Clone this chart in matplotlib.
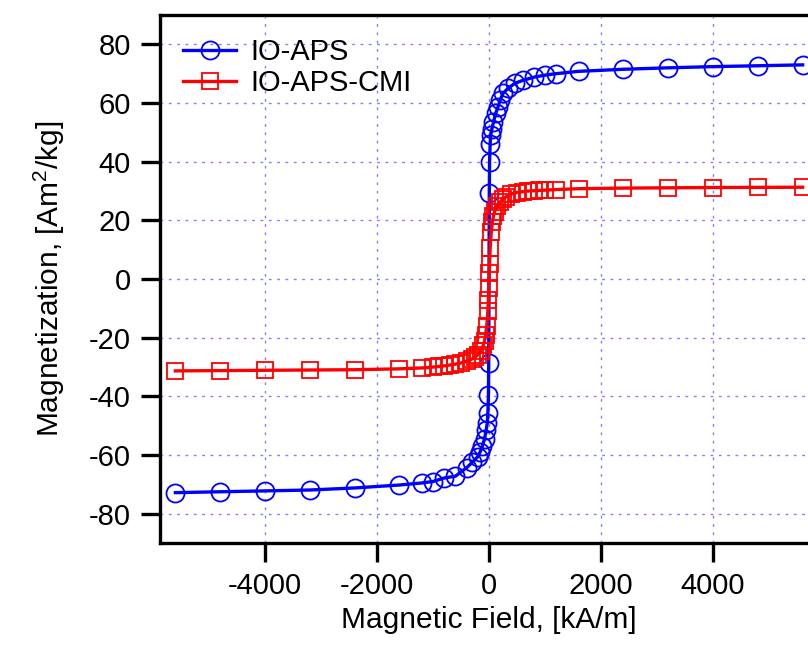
import matplotlib
matplotlib.use("Agg")
import matplotlib.pyplot as plt

plt.rcParams["font.family"] = ["Liberation Sans", "DejaVu Sans"]
plt.rcParams["mathtext.default"] = "regular"
plt.rcParams["axes.unicode_minus"] = False

# field values, kA/m
field_aps = [-5600, -4800, -4000, -3200, -2400, -1600, -1200, -1000, -800, -600,
             -400, -300, -200, -160, -120, -80, -50, -30, -20, -10, -5,
             5, 10, 20, 30, 50, 80, 120, 160, 200, 250, 340, 460, 600, 800,
             1000, 1200, 1600, 2400, 3200, 4000, 4800, 5600]
mag_aps = [-72.8, -72.5, -72.2, -71.9, -71.2, -70.2, -69.5, -69.0, -67.8, -67.2,
           -64.3, -62.5, -60.5, -59.0, -57.0, -54.5, -51.4, -49.0, -45.6, -39.5, -28.6,
           29.3, 39.8, 46.0, 49.0, 51.0, 53.5, 56.5, 58.6, 61.0, 63.3, 65.0, 66.7, 67.7, 68.8,
           69.5, 70.0, 70.8, 71.5, 72.0, 72.4, 72.7, 73.0]

field_cmi = [-5600, -4800, -4000, -3200, -2400, -1600, -1200, -1000, -900, -800,
             -700, -600, -500, -400, -300, -250, -200, -150, -100, -80, -60, -40,
             -20, -10, -5, 5, 10, 20, 40, 60, 80, 100, 150, 200, 250, 300, 400,
             500, 600, 700, 800, 900, 1000, 1200, 1600, 2400, 3200, 4000, 4800, 5600]
mag_cmi = [-31.3, -31.2, -31.1, -31.0, -30.9, -30.6, -30.3, -30.0, -29.8, -29.6,
           -29.3, -29.0, -28.6, -28.0, -27.2, -26.6, -25.8, -24.5, -22.5, -21.0, -19.0, -16.0,
           -11.0, -7.0, -3.0, 2.0, 5.0, 10.5, 16.0, 19.5, 21.5, 23.0, 25.0, 26.3, 27.3, 28.0, 29.0,
           29.5, 29.8, 30.0, 30.1, 30.2, 30.3, 30.5, 30.8, 31.0, 31.1, 31.2, 31.25, 31.3]

x_ticks = [-4000, -2000, 0, 2000, 4000]
y_ticks = [-80, -60, -40, -20, 0, 20, 40, 60, 80]

fig = plt.figure(figsize=(8.08, 6.52), dpi=100)
ax = fig.add_axes([0.198, 0.167, 0.8144, 0.81])

ax.plot(field_aps, mag_aps, color="#0000ff", lw=2.4, marker="o", ms=13,
        mfc="none", mec="#0000ff", mew=1.3, label="IO-APS", zorder=3)
ax.plot(field_cmi, mag_cmi, color="#ff0000", lw=2.4, marker="s", ms=12,
        mfc="none", mec="#ff0000", mew=1.3, label="IO-APS-CMI", zorder=3)

ax.set_xlim(-5875, 5875)
ax.set_ylim(-90, 90)
ax.set_xticks(x_ticks)
ax.set_yticks(y_ticks)
ax.grid(True, color="#8080ff", ls=(0, (2, 4)), lw=1)

for s in ax.spines.values():
    s.set_linewidth(2.4)
ax.tick_params(direction="out", length=14, width=2.4, labelsize=21, pad=7)

ax.set_xlabel("Magnetic Field, [kA/m]", fontsize=21.5, labelpad=4)
ax.set_ylabel("Magnetization, [Am$^{2}$/kg]", fontsize=21.5, labelpad=16)

ax.legend(loc="upper left", frameon=False, fontsize=21, handlelength=1.8,
          borderaxespad=0.5, handletextpad=0.5, labelspacing=0.1,
          borderpad=0.3)

fig.savefig("out.png", dpi=100)
